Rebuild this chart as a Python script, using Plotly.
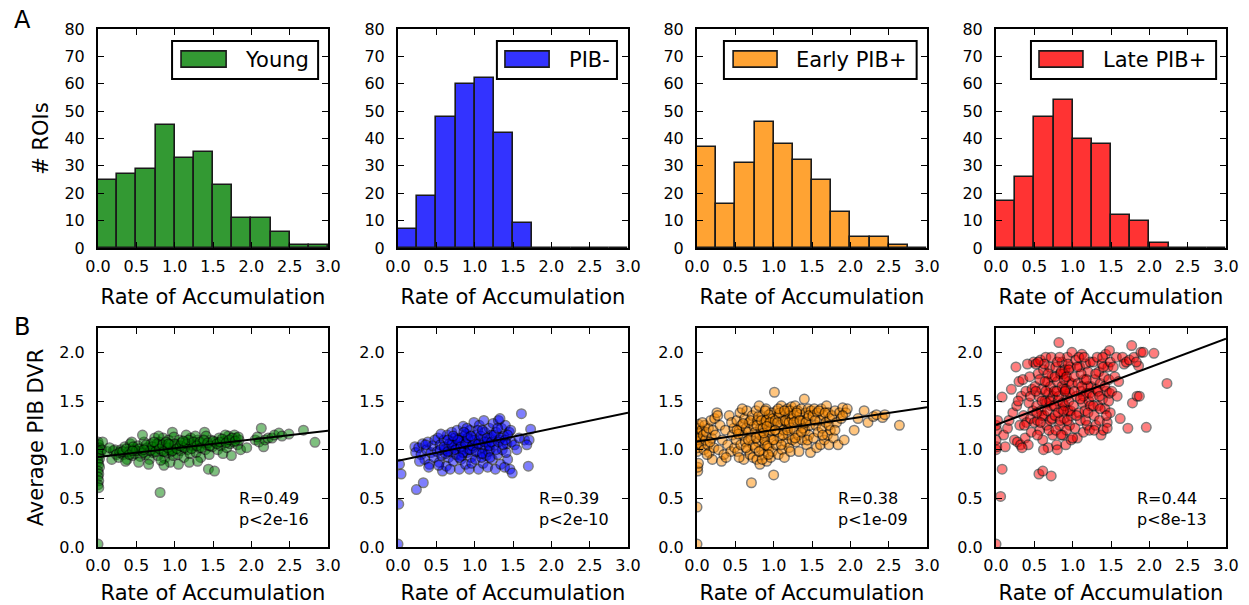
import plotly.graph_objects as go
from plotly.subplots import make_subplots

# ---------------- data ----------------
groups = ["Young", "PIB-", "Early PIB+", "Late PIB+"]
bin_edges = [0.0, 0.25, 0.5, 0.75, 1.0, 1.25, 1.5, 1.75, 2.0, 2.25, 2.5, 2.75, 3.0]

counts_young = [25, 27, 29, 45, 33, 35, 23, 11, 11, 6, 1, 1]
counts_pibneg = [7, 19, 48, 60, 62, 42, 9, 0, 0, 0, 0, 0]
counts_early = [37, 16, 31, 46, 38, 32, 25, 13, 4, 4, 1, 0]
counts_late = [17, 26, 48, 54, 40, 38, 12, 10, 2, 0, 0, 0]

fit_intercept = [0.925, 0.885, 1.085, 1.255]
fit_slope = [0.090, 0.165, 0.117, 0.295]
stat_r = ["R=0.49", "R=0.39", "R=0.38", "R=0.44"]
stat_p = ["p<2e-16", "p<2e-10", "p<1e-09", "p<8e-13"]

young_pts = [
    (0.0, 1.08), (0.01, 1.05), (0.02, 1.02), (0.0, 0.99), (0.03, 0.97), (0.01, 0.94), (0.02, 0.91),
    (0.0, 0.88), (0.01, 0.85), (0.02, 0.82), (0.0, 0.78), (0.01, 0.75), (0.0, 0.72), (0.01, 0.68),
    (0.0, 0.64), (0.01, 0.61), (0.0, 0.03), (0.06, 1.08), (0.05, 1.0),
    (0.12, 0.98), (0.18, 0.9), (0.2, 0.99), (0.22, 1.0), (0.15, 1.02), (0.24, 0.95),
    (0.27, 0.92), (0.3, 1.0), (0.33, 0.95), (0.35, 1.03), (0.38, 0.9), (0.4, 0.98), (0.42, 1.06),
    (0.45, 0.94), (0.47, 1.01), (0.28, 0.97), (0.36, 0.88), (0.44, 1.08), (0.48, 0.96),
    (0.52, 1.04), (0.55, 0.93), (0.57, 0.99), (0.6, 1.08), (0.62, 0.95), (0.64, 1.02), (0.67, 0.9),
    (0.69, 1.06), (0.72, 0.97), (0.74, 1.12), (0.53, 0.87), (0.66, 0.85), (0.7, 1.0), (0.58, 1.15),
    (0.76, 1.03), (0.78, 0.94), (0.8, 1.08), (0.81, 0.56), (0.83, 0.99), (0.85, 1.12), (0.87, 0.91),
    (0.88, 1.04), (0.9, 0.97), (0.92, 1.1), (0.94, 0.87), (0.95, 1.01), (0.97, 1.18), (0.98, 0.94),
    (0.79, 1.14), (0.86, 0.84), (0.93, 1.0), (0.99, 1.13), (0.82, 0.89), (0.96, 0.98),
    (1.02, 1.05), (1.04, 0.95), (1.06, 1.1), (1.08, 0.99), (1.1, 1.03), (1.12, 0.92), (1.14, 1.08),
    (1.17, 1.0), (1.19, 0.87), (1.21, 1.12), (1.23, 1.04), (1.05, 0.85), (1.15, 1.15), (1.2, 0.96),
    (1.26, 1.06), (1.28, 0.97), (1.3, 1.1), (1.32, 1.02), (1.34, 0.92), (1.36, 1.07), (1.39, 1.18),
    (1.4, 1.0), (1.42, 1.05), (1.44, 0.8), (1.45, 0.95), (1.47, 1.1), (1.49, 1.03), (1.3, 0.88),
    (1.41, 1.14), (1.27, 1.14),
    (1.52, 0.78), (1.53, 1.08), (1.56, 1.0), (1.58, 1.12), (1.6, 1.04), (1.63, 0.96), (1.65, 1.09),
    (1.68, 1.02), (1.7, 1.14), (1.72, 1.06), (1.74, 0.94), (1.66, 1.15),
    (1.77, 1.08), (1.8, 1.12), (1.82, 1.05), (1.84, 1.1), (1.86, 1.0), (1.78, 1.15), (1.94, 1.02),
    (2.05, 1.1), (2.08, 1.13), (2.1, 1.08), (2.13, 1.22), (2.16, 1.03), (2.18, 1.1), (2.22, 1.12),
    (2.27, 1.12), (2.3, 1.15), (2.36, 1.17), (2.4, 1.14), (2.49, 1.16),
    (2.68, 1.2), (2.83, 1.075),
    (0.32, 0.98), (0.37, 1.01), (0.41, 0.95), (0.46, 1.03), (0.5, 0.99), (0.54, 1.01), (0.59, 0.97),
    (0.63, 1.05), (0.68, 0.99), (0.71, 1.03), (0.75, 0.98), (0.77, 1.06), (0.8, 1.01), (0.84, 1.05),
    (0.86, 0.98), (0.89, 1.08), (0.91, 1.02), (0.94, 1.05), (0.97, 0.99), (1.0, 1.06), (1.03, 1.01),
    (1.07, 1.04), (1.09, 1.07), (1.13, 1.02), (1.16, 1.06), (1.18, 1.1), (1.22, 1.01), (1.25, 1.08),
    (1.29, 1.04), (1.33, 1.08), (1.35, 1.02), (1.38, 1.1), (1.43, 1.07), (1.46, 1.04), (1.5, 1.09),
    (1.55, 1.06), (1.59, 1.08), (1.62, 1.11), (1.67, 1.07), (1.71, 1.1), (1.75, 1.12), (1.79, 1.09),
    (1.83, 1.13), (0.6, 1.0), (0.45, 0.99), (1.11, 1.09), (0.73, 1.08), (0.92, 1.06),
]

pibneg_pts = [
    (0.0, 0.03), (0.01, 0.44), (0.04, 0.75), (0.02, 0.85), (0.24, 0.59), (0.22, 1.03), (0.23, 0.97),
    (0.33, 0.66), (0.27, 1.02), (0.3, 0.95), (0.32, 1.06), (0.35, 0.9), (0.37, 1.0), (0.39, 1.08),
    (0.41, 0.85), (0.43, 0.97), (0.45, 1.04), (0.47, 0.92), (0.48, 1.1), (0.4, 0.82), (0.28, 0.88),
    (0.36, 1.05),
    (0.51, 0.98), (0.52, 1.12), (0.54, 0.87), (0.55, 1.05), (0.57, 0.94), (0.58, 0.78), (0.6, 1.1),
    (0.61, 1.0), (0.63, 0.83), (0.64, 1.15), (0.66, 0.92), (0.67, 1.06), (0.69, 0.98), (0.7, 1.18),
    (0.72, 0.88), (0.73, 1.02), (0.74, 1.12), (0.56, 1.16), (0.62, 0.96), (0.68, 0.8), (0.53, 0.84),
    (0.71, 1.08),
    (0.76, 0.95), (0.77, 1.2), (0.78, 1.04), (0.8, 0.8), (0.81, 1.12), (0.82, 0.9), (0.84, 1.0),
    (0.85, 1.24), (0.86, 1.08), (0.88, 0.85), (0.89, 1.16), (0.9, 0.97), (0.91, 1.05), (0.93, 0.8),
    (0.94, 1.2), (0.95, 0.92), (0.97, 1.1), (0.98, 1.02), (0.99, 1.28), (0.83, 0.94), (0.87, 1.14),
    (0.92, 1.0), (0.96, 0.86), (0.79, 1.1), (0.9, 1.22),
    (1.01, 0.9), (1.02, 1.15), (1.03, 1.05), (1.05, 0.8), (1.06, 1.25), (1.07, 0.96), (1.08, 1.1),
    (1.1, 1.02), (1.11, 0.86), (1.12, 1.3), (1.13, 1.18), (1.15, 0.94), (1.16, 1.08), (1.17, 0.82),
    (1.19, 1.22), (1.2, 1.0), (1.21, 1.12), (1.23, 0.9), (1.24, 1.27), (1.04, 1.2), (1.09, 0.92),
    (1.14, 1.04), (1.18, 0.98), (1.22, 1.15),
    (1.26, 1.05), (1.27, 0.8), (1.28, 1.18), (1.3, 0.95), (1.31, 1.3), (1.32, 1.1), (1.34, 0.85),
    (1.35, 1.22), (1.36, 1.0), (1.38, 1.14), (1.39, 0.82), (1.4, 1.25), (1.42, 1.06), (1.43, 0.9),
    (1.45, 1.18), (1.46, 0.8), (1.48, 1.08), (1.49, 0.76), (1.33, 1.32), (1.41, 0.97), (1.47, 1.2),
    (1.52, 1.05), (1.55, 1.0), (1.61, 1.37), (1.65, 1.1), (1.7, 0.83), (1.71, 1.1), (1.73, 1.21),
    (1.68, 1.05), (1.58, 1.12),
    (0.55, 1.0), (0.6, 1.03), (0.65, 0.98), (0.7, 1.05), (0.75, 1.0), (0.78, 1.1), (0.82, 1.03),
    (0.85, 0.97), (0.88, 1.06), (0.91, 1.12), (0.94, 1.0), (0.97, 1.04), (1.0, 1.1), (1.02, 0.98),
    (1.05, 1.06), (1.08, 1.14), (1.1, 0.96), (1.13, 1.08), (1.16, 1.12), (1.19, 1.04), (1.22, 1.08),
    (1.25, 1.15), (1.28, 1.0), (1.31, 1.08), (1.34, 1.12), (1.37, 1.05), (1.4, 1.1), (1.43, 1.15),
    (0.65, 1.1), (0.72, 1.14), (0.86, 1.18), (1.1, 1.2), (1.3, 1.22), (0.95, 1.14), (0.8, 0.92),
    (1.2, 0.92),
]

early_pts = [
    (0.0, 0.03), (0.0, 0.41), (0.01, 0.78), (0.01, 0.82), (0.02, 0.86), (0.0, 0.98), (0.01, 1.02),
    (0.0, 1.06), (0.02, 1.1), (0.0, 1.14), (0.01, 1.18), (0.0, 1.22), (0.02, 1.26), (0.04, 1.12),
    (0.05, 1.05), (0.06, 1.2), (0.08, 1.15), (0.09, 1.0), (0.1, 1.25), (0.11, 1.1), (0.12, 1.18),
    (0.14, 1.05), (0.15, 1.22), (0.16, 0.97), (0.18, 1.3), (0.19, 1.12), (0.2, 0.9), (0.21, 1.2),
    (0.22, 1.02), (0.23, 1.32), (0.24, 1.15), (0.13, 0.95), (0.07, 1.28), (0.17, 1.08),
    (0.26, 1.38), (0.28, 1.0), (0.3, 1.25), (0.32, 0.88), (0.33, 1.1), (0.35, 0.95), (0.37, 1.2),
    (0.4, 1.05), (0.42, 1.35), (0.44, 0.98), (0.46, 1.15), (0.48, 1.22), (0.27, 1.35), (0.38, 0.92),
    (0.45, 1.28), (0.49, 1.02),
    (0.51, 1.1), (0.52, 1.3), (0.53, 0.98), (0.55, 1.2), (0.56, 1.38), (0.57, 1.05), (0.58, 1.25),
    (0.6, 1.15), (0.61, 0.9), (0.62, 1.32), (0.63, 1.08), (0.64, 1.22), (0.65, 1.4), (0.66, 1.0),
    (0.67, 1.18), (0.68, 1.28), (0.69, 0.95), (0.7, 1.12), (0.71, 0.66), (0.72, 1.35), (0.73, 1.05),
    (0.74, 1.24), (0.54, 1.16), (0.59, 1.42), (0.64, 1.02), (0.7, 1.3), (0.55, 0.92), (0.6, 1.27),
    (0.67, 1.1), (0.73, 0.92), (0.52, 1.2),
    (0.76, 1.18), (0.77, 1.4), (0.78, 0.9), (0.79, 1.3), (0.8, 1.08), (0.81, 1.45), (0.82, 0.85),
    (0.83, 1.22), (0.84, 1.0), (0.85, 1.35), (0.86, 1.12), (0.87, 0.95), (0.88, 1.28), (0.89, 1.05),
    (0.9, 1.42), (0.91, 0.88), (0.92, 1.2), (0.93, 1.32), (0.94, 1.02), (0.95, 1.15), (0.96, 0.92),
    (0.97, 1.38), (0.98, 1.1), (0.99, 1.25), (1.0, 0.74), (0.76, 1.02), (0.78, 1.25), (0.8, 1.34),
    (0.82, 1.15), (0.84, 1.3), (0.86, 1.22), (0.88, 1.1), (0.9, 1.3), (0.92, 1.04), (0.94, 1.36),
    (0.96, 1.2), (0.98, 0.98), (0.99, 1.32), (0.85, 0.9), (0.93, 0.95), (0.89, 1.4), (0.81, 0.98),
    (0.77, 1.12), (0.95, 1.28), (0.87, 1.17), (0.91, 1.24),
    (1.01, 1.59), (1.02, 1.3), (1.03, 1.05), (1.04, 1.4), (1.05, 1.18), (1.06, 0.95), (1.07, 1.35),
    (1.08, 1.12), (1.09, 1.25), (1.1, 1.45), (1.11, 1.0), (1.12, 1.3), (1.13, 1.2), (1.14, 0.92),
    (1.15, 1.38), (1.16, 1.08), (1.17, 1.28), (1.18, 1.42), (1.19, 1.15), (1.2, 1.02), (1.21, 1.35),
    (1.22, 1.22), (1.23, 1.44), (1.24, 1.1), (1.05, 1.28), (1.08, 1.38), (1.12, 1.15), (1.15, 1.3),
    (1.18, 1.2), (1.21, 1.4), (1.24, 1.32), (1.02, 1.2), (1.1, 1.05), (1.2, 1.28), (1.06, 1.42),
    (1.14, 1.4), (1.22, 0.98), (1.0, 1.1),
    (1.26, 1.35), (1.27, 1.2), (1.28, 1.45), (1.29, 1.08), (1.3, 1.3), (1.31, 1.4), (1.32, 1.15),
    (1.33, 0.98), (1.34, 1.36), (1.35, 1.25), (1.36, 1.42), (1.37, 1.1), (1.38, 1.3), (1.4, 1.52),
    (1.41, 1.2), (1.42, 1.38), (1.43, 1.05), (1.44, 1.32), (1.45, 1.42), (1.46, 1.15), (1.47, 1.25),
    (1.48, 0.97), (1.49, 1.4), (1.26, 1.28), (1.3, 1.38), (1.34, 1.3), (1.38, 1.22), (1.42, 1.28),
    (1.46, 1.35), (1.28, 1.12), (1.36, 1.18), (1.44, 1.1),
    (1.51, 1.35), (1.52, 1.12), (1.53, 1.42), (1.55, 1.25), (1.56, 1.02), (1.57, 1.38), (1.58, 1.18),
    (1.6, 1.3), (1.61, 1.05), (1.62, 1.42), (1.63, 1.22), (1.65, 1.35), (1.66, 1.1), (1.68, 1.28),
    (1.69, 1.45), (1.7, 1.15), (1.71, 1.38), (1.72, 1.05), (1.73, 1.32), (1.74, 1.2), (1.54, 1.3),
    (1.59, 1.4), (1.64, 1.15), (1.67, 1.38), (1.72, 1.25),
    (1.76, 1.35), (1.78, 1.12), (1.8, 1.4), (1.82, 1.28), (1.84, 1.05), (1.86, 1.38), (1.88, 1.32),
    (1.9, 1.43), (1.92, 1.1), (1.94, 1.38), (1.96, 1.42), (1.8, 1.2), (1.9, 1.35),
    (2.05, 1.2), (2.1, 1.32), (2.18, 1.4), (2.23, 1.28),
    (2.3, 1.34), (2.34, 1.36), (2.42, 1.33), (2.45, 1.36),
    (2.64, 1.25),
]

late_pts = [
    (0.0, 0.03), (0.06, 0.52), (0.08, 0.8), (0.0, 1.0), (0.01, 1.03), (0.0, 1.1), (0.01, 1.2),
    (0.0, 1.25), (0.02, 1.3), (0.08, 1.54), (0.1, 1.15), (0.12, 1.03), (0.15, 1.22), (0.17, 1.3),
    (0.2, 1.62), (0.22, 1.38), (0.24, 1.1),
    (0.26, 1.85), (0.27, 1.45), (0.28, 1.08), (0.3, 1.7), (0.31, 1.25), (0.32, 1.05), (0.33, 1.55),
    (0.35, 1.72), (0.36, 1.35), (0.38, 1.12), (0.39, 1.6), (0.4, 1.28), (0.42, 1.05), (0.43, 1.48),
    (0.44, 1.75), (0.45, 1.32), (0.46, 1.18), (0.47, 1.62), (0.48, 1.4), (0.49, 1.9), (0.34, 1.02),
    (0.29, 1.5), (0.41, 1.88), (0.37, 1.25), (0.45, 1.55), (0.5, 1.28),
    (0.51, 1.65), (0.52, 1.88), (0.53, 1.45), (0.54, 1.3), (0.55, 1.78), (0.56, 0.75), (0.56, 1.55),
    (0.57, 1.2), (0.58, 1.92), (0.59, 1.4), (0.6, 1.62), (0.61, 0.78), (0.61, 1.1), (0.62, 1.82),
    (0.63, 1.35), (0.64, 1.5), (0.65, 1.95), (0.66, 1.25), (0.67, 1.7), (0.68, 1.02), (0.69, 1.58),
    (0.7, 1.85), (0.71, 1.3), (0.72, 0.73), (0.72, 1.45), (0.73, 1.75), (0.74, 1.15), (0.52, 1.6),
    (0.54, 1.15), (0.57, 1.72), (0.6, 1.35), (0.63, 1.88), (0.66, 1.48), (0.69, 1.2), (0.71, 1.65),
    (0.74, 1.55), (0.53, 1.38), (0.58, 1.28), (0.62, 1.0), (0.65, 1.6), (0.68, 1.78), (0.7, 1.5),
    (0.73, 1.32), (0.55, 1.9), (0.64, 1.7), (0.67, 1.4), (0.72, 1.95), (0.6, 1.5),
    (0.76, 1.6), (0.77, 1.35), (0.78, 1.85), (0.79, 1.05), (0.8, 1.7), (0.81, 1.5), (0.82, 2.1),
    (0.83, 1.25), (0.84, 1.78), (0.85, 1.42), (0.86, 1.9), (0.87, 1.15), (0.88, 1.62), (0.89, 1.32),
    (0.9, 1.82), (0.91, 1.05), (0.92, 1.55), (0.93, 1.95), (0.94, 1.4), (0.95, 1.7), (0.96, 1.25),
    (0.97, 1.85), (0.98, 1.1), (0.99, 2.0), (0.76, 1.45), (0.78, 1.2), (0.8, 1.9), (0.82, 1.55),
    (0.84, 1.3), (0.86, 1.65), (0.88, 1.78), (0.9, 1.45), (0.92, 1.2), (0.94, 1.88), (0.96, 1.58),
    (0.98, 1.35), (0.77, 1.75), (0.79, 1.6), (0.81, 1.38), (0.83, 1.95), (0.85, 1.15), (0.87, 1.48),
    (0.89, 1.72), (0.91, 1.62), (0.93, 1.3), (0.95, 1.5), (0.97, 1.4), (0.99, 1.68), (0.8, 1.0),
    (0.85, 1.8), (0.9, 1.6), (0.95, 1.82), (0.88, 1.4), (0.92, 1.75),
    (1.01, 1.45), (1.02, 1.75), (1.03, 1.22), (1.04, 1.92), (1.05, 1.55), (1.06, 1.12), (1.07, 1.68),
    (1.08, 1.38), (1.09, 1.85), (1.1, 1.3), (1.11, 1.6), (1.12, 1.98), (1.13, 1.48), (1.14, 1.18),
    (1.15, 1.72), (1.16, 1.4), (1.17, 1.88), (1.18, 1.58), (1.19, 1.25), (1.2, 1.8), (1.21, 1.5),
    (1.22, 1.2), (1.23, 1.9), (1.24, 1.65), (1.02, 1.6), (1.05, 1.35), (1.08, 1.95), (1.11, 1.78),
    (1.14, 1.55), (1.17, 1.3), (1.2, 1.65), (1.23, 1.45), (1.0, 1.12), (1.06, 1.85), (1.12, 1.65),
    (1.18, 1.72), (1.22, 1.58), (1.1, 1.52), (1.15, 1.95), (1.2, 1.38),
    (1.26, 1.55), (1.27, 1.9), (1.28, 1.35), (1.29, 1.72), (1.3, 1.25), (1.31, 1.62), (1.32, 1.95),
    (1.33, 1.45), (1.34, 1.8), (1.35, 1.3), (1.36, 1.68), (1.37, 1.15), (1.38, 1.88), (1.39, 1.52),
    (1.4, 1.2), (1.41, 1.75), (1.42, 1.42), (1.43, 1.98), (1.44, 1.6), (1.45, 1.28), (1.46, 1.85),
    (1.47, 1.5), (1.48, 2.02), (1.49, 1.38), (1.27, 1.45), (1.3, 1.78), (1.33, 1.6), (1.36, 1.42),
    (1.39, 1.95), (1.42, 1.65), (1.45, 1.22), (1.48, 1.58), (1.28, 1.2), (1.35, 1.55), (1.4, 1.85),
    (1.44, 1.35), (1.47, 1.72), (1.49, 1.9),
    (1.51, 1.6), (1.53, 1.85), (1.55, 1.75), (1.57, 1.95), (1.6, 1.7), (1.62, 1.32), (1.65, 1.95),
    (1.67, 1.88), (1.7, 1.9), (1.72, 1.22), (1.74, 1.92), (1.58, 1.55),
    (1.77, 2.07), (1.78, 1.48), (1.8, 1.95), (1.84, 1.55), (1.86, 1.86), (1.87, 1.55), (1.89, 2.0),
    (1.92, 2.0), (1.96, 1.23), (1.83, 1.9),
    (2.06, 1.99), (2.23, 1.68),
]

all_counts = [counts_young, counts_pibneg, counts_early, counts_late]
all_pts = [young_pts, pibneg_pts, early_pts, late_pts]

# ---------------- styles ----------------
bar_colors = ["#339933", "#3333ff", "#ffa333", "#ff3333"]
dot_colors = ["#008000", "#0000ff", "#ff8c00", "#ff0000"]
FONT = "DejaVu Sans"
W, H = 1249, 605

col_px = [(98, 328), (398, 628), (697, 927), (996, 1226)]
row_px = [(29, 248), (328, 547)]

# legend geometry (axis-domain fractions)
leg_box_x = [(0.322, 0.957), (0.43, 0.952), (0.117, 0.955), (0.152, 0.957)]
leg_patch_x = [(0.361, 0.557), (0.465, 0.657), (0.157, 0.348), (0.187, 0.378)]
leg_text_x = [0.63, 0.735, 0.422, 0.457]

fig = make_subplots(rows=2, cols=4)

bin_centers = [(bin_edges[i] + bin_edges[i + 1]) / 2 for i in range(len(bin_edges) - 1)]

for g in range(4):
    fig.add_trace(go.Bar(
        x=bin_centers, y=all_counts[g], width=0.25,
        marker=dict(color=bar_colors[g], line=dict(color="#1a1a1a", width=1.6)),
        showlegend=False, hoverinfo="skip"), row=1, col=g + 1)
    xs = [p[0] for p in all_pts[g]]
    ys = [p[1] for p in all_pts[g]]
    fig.add_trace(go.Scatter(
        x=xs, y=ys, mode="markers",
        marker=dict(size=9.5, color=dot_colors[g], opacity=0.5,
                    line=dict(color="black", width=1.5)),
        showlegend=False), row=2, col=g + 1)
    fig.add_trace(go.Scatter(
        x=[0, 3], y=[fit_intercept[g], fit_intercept[g] + 3 * fit_slope[g]],
        mode="lines", line=dict(color="black", width=2), showlegend=False), row=2, col=g + 1)

axis_common = dict(
    showline=True, linecolor="black", linewidth=2, mirror="ticks",
    ticks="inside", ticklen=6, tickwidth=1.3, tickcolor="black",
    showgrid=False, zeroline=False, automargin=False,
    tickfont=dict(family=FONT, size=16, color="black"),
)

for r in range(2):
    for c in range(4):
        idx = r * 4 + c + 1
        xname = "xaxis" if idx == 1 else f"xaxis{idx}"
        yname = "yaxis" if idx == 1 else f"yaxis{idx}"
        x0, x1 = col_px[c]
        y0, y1 = row_px[r]
        fig.layout[xname].update(
            domain=[x0 / W, x1 / W], range=[0, 3], tickvals=[0, 0.5, 1, 1.5, 2, 2.5, 3],
            tickformat=".1f", ticklabelstandoff=3,
            title=dict(text="Rate of Accumulation", font=dict(family=FONT, size=21, color="black"),
                       standoff=14),
            **axis_common)
        if r == 0:
            yk = dict(range=[0, 80], tickvals=list(range(0, 81, 10)))
        else:
            yk = dict(range=[0, 2.25], tickvals=[0, 0.5, 1.0, 1.5, 2.0], tickformat=".1f")
        ytitle = ""
        if c == 0:
            ytitle = "# ROIs" if r == 0 else "Average PIB DVR"
        fig.layout[yname].update(
            domain=[1 - y1 / H, 1 - y0 / H], ticklabelstandoff=8,
            title=dict(text=ytitle, font=dict(family=FONT, size=21, color="black"), standoff=10),
            **yk, **axis_common)

shapes = []
annotations = []
for g in range(4):
    xr = "x domain" if g == 0 else f"x{g + 1} domain"
    yr = "y domain" if g == 0 else f"y{g + 1} domain"
    shapes.append(dict(type="rect", xref=xr, yref=yr, x0=leg_box_x[g][0], x1=leg_box_x[g][1],
                       y0=0.772, y1=0.945, fillcolor="white", line=dict(color="black", width=2),
                       layer="above"))
    shapes.append(dict(type="rect", xref=xr, yref=yr, x0=leg_patch_x[g][0], x1=leg_patch_x[g][1],
                       y0=0.826, y1=0.900, fillcolor=bar_colors[g],
                       line=dict(color="#1a1a1a", width=1.6), layer="above"))
    annotations.append(dict(xref=xr, yref=yr, x=leg_text_x[g], y=0.8585, text=groups[g],
                            showarrow=False, xanchor="left", yanchor="middle",
                            font=dict(family=FONT, size=21, color="black")))
    xr2 = f"x{g + 5} domain"
    yr2 = f"y{g + 5} domain"
    annotations.append(dict(xref=xr2, yref=yr2, x=0.603, y=0.1735,
                            text=stat_r[g] + "<br>" + stat_p[g], align="left",
                            showarrow=False, xanchor="left", yanchor="middle",
                            font=dict(family=FONT, size=16, color="black")))

annotations.append(dict(xref="paper", yref="paper", x=12 / W, y=1 - 20 / H, text="A",
                        showarrow=False, xanchor="left", yanchor="middle",
                        font=dict(family=FONT, size=24, color="black")))
annotations.append(dict(xref="paper", yref="paper", x=12 / W, y=1 - 327 / H, text="B",
                        showarrow=False, xanchor="left", yanchor="middle",
                        font=dict(family=FONT, size=24, color="black")))

fig.update_layout(
    width=W, height=H, margin=dict(l=0, r=0, t=0, b=0),
    plot_bgcolor="white", paper_bgcolor="white",
    bargap=0, shapes=shapes, annotations=annotations,
    font=dict(family=FONT, color="black"),
)

fig.write_html("out.html")
